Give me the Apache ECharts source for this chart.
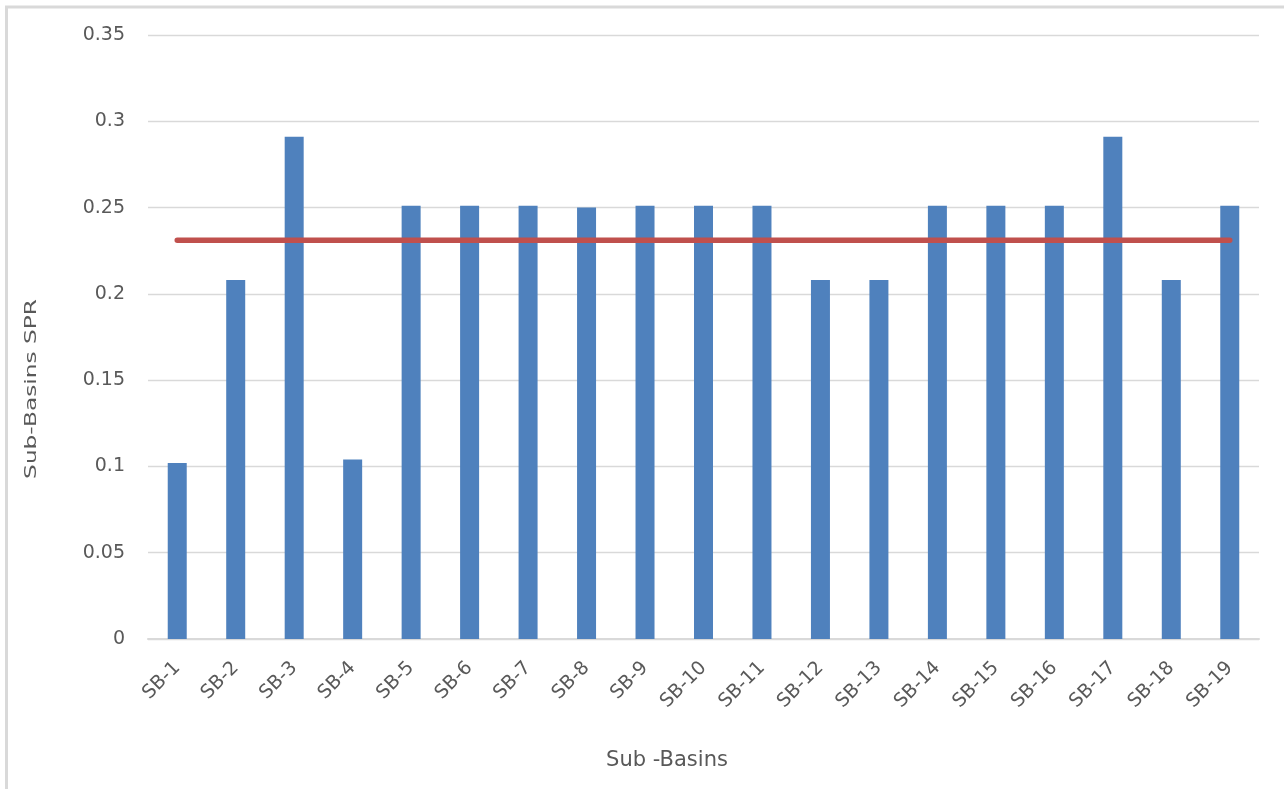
<!DOCTYPE html>
<html>
<head>
<meta charset="utf-8">
<style>
  html, body { margin: 0; padding: 0; background: #ffffff; }
  #chart { width: 1284px; height: 789px; }
</style>
<script src="https://cdn.jsdelivr.net/npm/echarts@6/dist/echarts.min.js"></script>
</head>
<body>
<div id="chart"></div>
<script>
// Sub-basin categories
const categories = ['SB-1', 'SB-2', 'SB-3', 'SB-4', 'SB-5', 'SB-6', 'SB-7', 'SB-8', 'SB-9', 'SB-10',
  'SB-11', 'SB-12', 'SB-13', 'SB-14', 'SB-15', 'SB-16', 'SB-17', 'SB-18', 'SB-19'];

// SPR value per sub-basin
const sprValues = [0.102, 0.208, 0.291, 0.104, 0.251, 0.251, 0.251, 0.250, 0.251, 0.251,
  0.251, 0.208, 0.208, 0.251, 0.251, 0.251, 0.291, 0.208, 0.251];

// Average SPR reference line
const averageLine = [0.231, 0.231, 0.231, 0.231, 0.231, 0.231, 0.231, 0.231, 0.231, 0.231,
  0.231, 0.231, 0.231, 0.231, 0.231, 0.231, 0.231, 0.231, 0.231];

// Value axis settings
const yMin = 0;
const yMax = 0.35;
const yStep = 0.05;

const xTitle = 'Sub -Basins';
const yTitle = 'Sub-Basins SPR';

const FONT = 'DejaVu Sans';
const TEXT = '#595959';
const GRID = '#d9d9d9';

const chart = echarts.init(document.getElementById('chart'), null, { renderer: 'canvas' });

chart.setOption({
  backgroundColor: '#ffffff',
  animation: false,
  grid: { left: 148, right: 25, top: 35, bottom: 150, containLabel: false },
  xAxis: {
    type: 'category',
    data: categories,
    boundaryGap: true,
    axisLine: { show: true, lineStyle: { color: GRID, width: 2 } },
    axisTick: { show: false },
    axisLabel: {
      rotate: 45,
      margin: 26,
      interval: 0,
      color: TEXT,
      fontFamily: FONT,
      fontSize: 19
    },
    splitLine: { show: false }
  },
  yAxis: {
    type: 'value',
    min: yMin,
    max: yMax,
    interval: yStep,
    axisLine: { show: false },
    axisTick: { show: false },
    axisLabel: {
      margin: 23,
      color: TEXT,
      fontFamily: FONT,
      fontSize: 19
    },
    splitLine: { show: true, lineStyle: { color: GRID, width: 1.3 } }
  },
  series: [
    {
      name: 'SPR',
      type: 'bar',
      data: sprValues,
      barWidth: 19,
      itemStyle: { color: '#4f81bd' }
    },
    {
      name: 'Average',
      type: 'line',
      data: averageLine,
      symbol: 'none',
      lineStyle: { color: '#c0504d', width: 5.5, cap: 'round' },
      z: 5
    }
  ],
  graphic: [
    {
      type: 'rect',
      silent: true,
      shape: { x: 6.5, y: 7, width: 1400, height: 900 },
      style: { fill: 'none', stroke: '#d9d9d9', lineWidth: 3 },
      z: 100
    },
    {
      type: 'text',
      x: 667,
      y: 761,
      style: {
        text: xTitle,
        fill: TEXT,
        font: '21px "DejaVu Sans"',
        textAlign: 'center',
        textVerticalAlign: 'middle'
      }
    },
    {
      type: 'text',
      x: 32,
      y: 389,
      rotation: Math.PI / 2,
      scaleX: 1.55,
      style: {
        text: yTitle,
        fill: TEXT,
        font: '15px "DejaVu Sans"',
        textAlign: 'center',
        textVerticalAlign: 'middle'
      }
    }
  ]
});
</script>
</body>
</html>
